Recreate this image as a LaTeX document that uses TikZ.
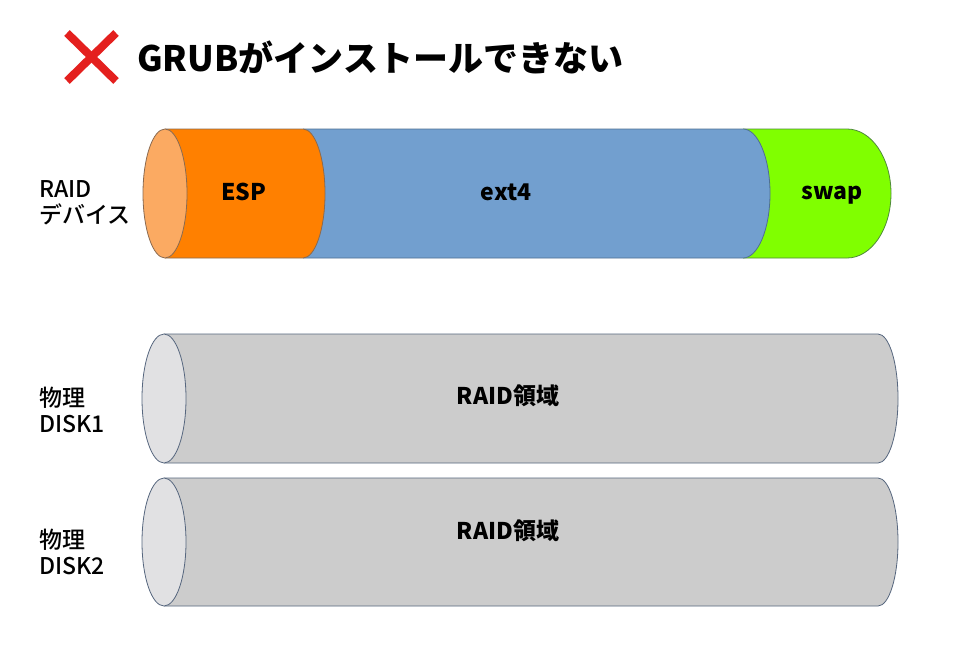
\documentclass[tikz,border=0pt]{standalone}
\usepackage{fontspec}
\setmainfont{Noto Sans CJK JP}
\newfontfamily\medfont{Noto Sans CJK JP Medium}
\definecolor{espfill}{HTML}{FF8000}
\definecolor{espcap}{HTML}{FBAA62}
\definecolor{espline}{HTML}{8A6A50}
\definecolor{extfill}{HTML}{729FCF}
\definecolor{extline}{HTML}{4F6F92}
\definecolor{swapfill}{HTML}{80FF00}
\definecolor{swapline}{HTML}{4F8A3A}
\definecolor{diskfill}{HTML}{CCCCCC}
\definecolor{diskcap}{HTML}{E1E1E3}
\definecolor{diskline}{HTML}{56667E}
\definecolor{xred}{HTML}{E4201E}
\tikzset{
  lbl/.style={font=\fontsize{23}{27}\selectfont\bfseries, inner sep=0pt},
  sidelbl/.style={font=\medfont\fontsize{23}{26.5}\selectfont, inner sep=0pt, anchor=west, align=left},
  segline/.style={line width=0.8pt},
}
% segment: #1 xl, #2 xr, #3 rx, #4 top, #5 bottom, #6 fill, #7 line
\newcommand{\cylseg}[7]{%
  \fill[#6] (#1,#4) -- (#2,#4) arc[start angle=-90,end angle=90,x radius=#3,y radius={(#5-#4)/2}] -- (#1,#5) -- cycle;
  \draw[segline,#7] (#1,#4) -- (#2,#4) arc[start angle=-90,end angle=90,x radius=#3,y radius={(#5-#4)/2}] -- (#1,#5);
}
\begin{document}
\begin{tikzpicture}[x=1pt,y=-1pt]
\useasboundingbox (0,0) rectangle (963,661);
\fill[white] (0,0) rectangle (963,661);
% title
\draw[xred, line width=8pt] (67,33) -- (116,81);
\draw[xred, line width=8pt] (116,33) -- (67,81);
\node[anchor=west, inner sep=0pt, font=\fontsize{35}{38}\selectfont\bfseries] (title) at (137,57) {GRUBがインストールできない};
% RAID device cylinder
\cylseg{743}{847}{44}{129}{258}{swapfill}{swapline}
\cylseg{303}{743}{27}{129}{258}{extfill}{extline}
\cylseg{165}{303}{22}{129}{258}{espfill}{espline}
\filldraw[fill=espcap, draw=espline, segline] (165,193.5) ellipse[x radius=22, y radius=64.5];
\node[lbl] (esp) at (244,192) {ESP};
\node[lbl] (ext) at (506,192) {ext4};
\node[lbl] (swap) at (832,195) {swap};
\node[sidelbl] (raiddev) at (39,203) {RAID\\デバイス};
% disk 1
\cylseg{164}{878}{20}{334}{463}{diskfill}{diskline}
\filldraw[fill=diskcap, draw=diskline, segline] (164,398.5) ellipse[x radius=22, y radius=64.5];
\node[lbl] (r1) at (508,396) {RAID領域};
\node[sidelbl] (d1) at (39,410) {物理\\DISK1};
% disk 2
\cylseg{164}{878}{20}{478}{606}{diskfill}{diskline}
\filldraw[fill=diskcap, draw=diskline, segline] (164,542) ellipse[x radius=22, y radius=64];
\node[lbl] (r2) at (508,531) {RAID領域};
\node[sidelbl] (d2) at (39,552) {物理\\DISK2};
\end{tikzpicture}
\end{document}
